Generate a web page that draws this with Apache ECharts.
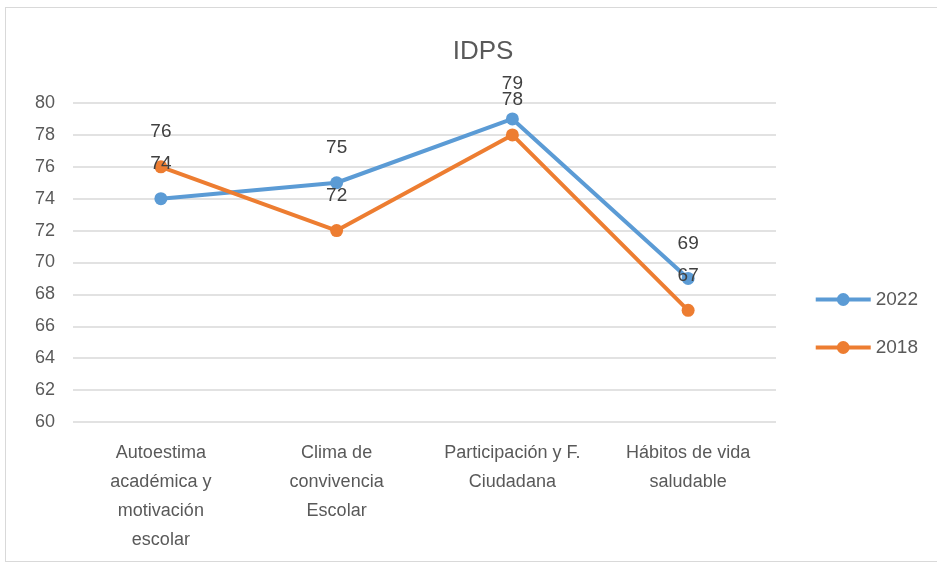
<!DOCTYPE html>
<html>
<head>
<meta charset="utf-8">
<script src="https://cdn.jsdelivr.net/npm/echarts@6/dist/echarts.min.js"></script>
<style>
  html, body { margin: 0; padding: 0; background: #fff; }
  #frame { position: absolute; left: 5px; top: 7px; width: 950px; height: 555px; border: 1px solid #d9d9d9; box-sizing: border-box; }
  #chart { width: 937px; height: 567px; }
</style>
</head>
<body>
<div id="frame"></div>
<div id="chart"></div>
<script>
const categories = [
  'Autoestima\nacadémica y\nmotivación\nescolar',
  'Clima de\nconvivencia\nEscolar',
  'Participación y F.\nCiudadana',
  'Hábitos de vida\nsaludable'
]
const values2022 = [74, 75, 79, 69]
const values2018 = [76, 72, 78, 67]

const myChart = echarts.init(document.getElementById('chart'))
const font = 'Liberation Sans, sans-serif'

function lineSeries(name, data, color) {
  return {
    name: name,
    type: 'line',
    data: data,
    symbol: 'circle',
    symbolSize: 13,
    lineStyle: { width: 4, color: color },
    itemStyle: { color: color },
    label: {
      show: true,
      position: 'top',
      distance: 19,
      fontSize: 19,
      color: '#404040',
      fontFamily: font
    }
  }
}

let option = {
  animation: false,
  title: {
    text: 'IDPS',
    left: 478,
    textAlign: 'center',
    top: 34,
    textStyle: { fontSize: 26, fontWeight: 'normal', color: '#595959', fontFamily: font }
  },
  legend: {
    orient: 'vertical',
    right: 14,
    top: 285,
    itemWidth: 55,
    itemHeight: 16,
    itemGap: 29,
    lineStyle: { width: 4 },
    textStyle: { fontSize: 19, color: '#595959', fontFamily: font },
    data: ['2022', '2018']
  },
  grid: {
    left: 73,
    right: 161,
    top: 103,
    bottom: 145
  },
  xAxis: {
    type: 'category',
    data: categories,
    axisLine: { show: false },
    axisTick: { show: false },
    axisLabel: {
      margin: 17,
      fontSize: 18,
      lineHeight: 29,
      color: '#595959',
      fontFamily: font,
      interval: 0
    }
  },
  yAxis: {
    type: 'value',
    min: 60,
    max: 80,
    interval: 2,
    axisLine: { show: false },
    axisTick: { show: false },
    splitLine: { lineStyle: { color: '#d9d9d9', width: 1.5 } },
    axisLabel: { margin: 18, fontSize: 18, color: '#595959', fontFamily: font }
  },
  series: [
    lineSeries('2022', values2022, '#5b9bd5'),
    lineSeries('2018', values2018, '#ed7d31')
  ]
}
myChart.setOption(option)
</script>
</body>
</html>
